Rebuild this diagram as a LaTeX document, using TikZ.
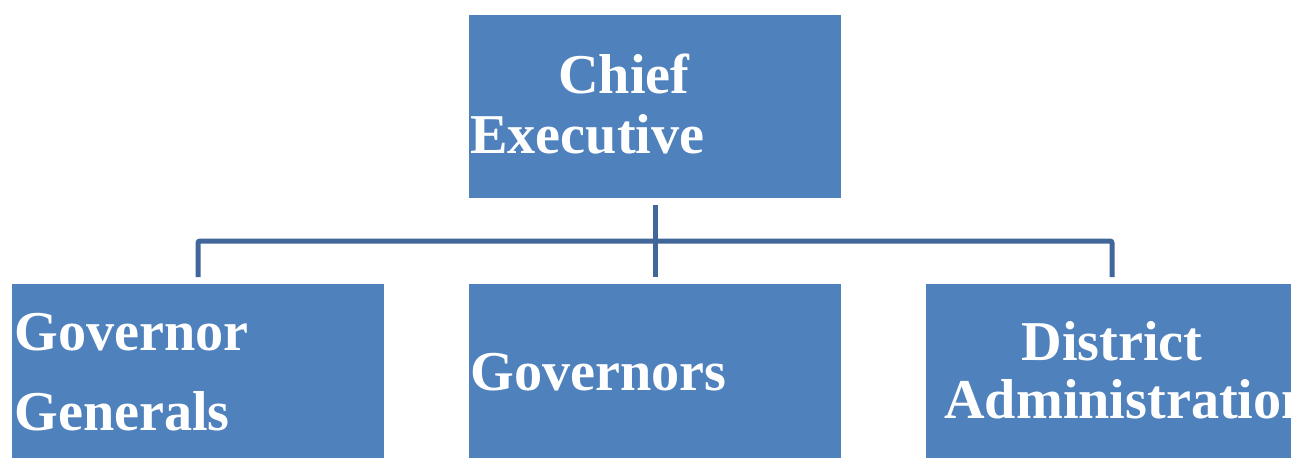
\documentclass[tikz,border=0pt]{standalone}
\usepackage{fontspec}
\setmainfont{Liberation Serif}
\usetikzlibrary{positioning}
\definecolor{boxblue}{HTML}{4F81BD}
\definecolor{linkblue}{HTML}{41679A}
\tikzset{
	orgbox/.style={rectangle, fill=boxblue, inner sep=0, outer sep=0.14cm, minimum width=7.44cm, minimum height=3.66cm},
	lowbox/.style={orgbox, minimum height=3.8cm},
	orglabel/.style={inner sep=0, text=white, font=\fontsize{32}{34}\selectfont\bfseries},
	orglink/.style={line width=0.1cm, color=linkblue, rounded corners=0.04cm}
}

\begin{document}
\begin{tikzpicture}[x=0.02cm, y=-0.02cm]
			%%%%% START %%%%%
			\useasboundingbox (0, 0) rectangle (1291, 457);
			
			\node[orgbox] (chief) at (655, 106.5) {};
			\node[lowbox] (gengov) at (198, 379) {};
			\node[lowbox] (gov) at (655, 379) {};
			\node[lowbox] (district) at (1112, 379) {};
			
			\node[orglabel, anchor=base west] (chiefA) at (558, 93) {Chief};
			\node[orglabel, anchor=base west] (chiefB) at (470, 153) {Executive};
			\node[orglabel, anchor=base west] (gengovA) at (14, 350) {Governor};
			\node[orglabel, anchor=base west] (gengovB) at (14, 430) {Generals};
			\node[orglabel, anchor=base west] (govA) at (470, 390) {Governors};
			\node[orglabel, anchor=base] (districtA) at (1112, 360) {District};
			\node[orglabel, anchor=base west] (districtB) at (944, 418) {Administration};
			
			\coordinate (bus) at (655, 241);
			\draw[orglink] (chief.south) -- (gov.north);
			\draw[orglink] (gengov.north) |- (bus) -| (district.north);
			
			%%%%% END %%%%%
\end{tikzpicture}
\end{document}
